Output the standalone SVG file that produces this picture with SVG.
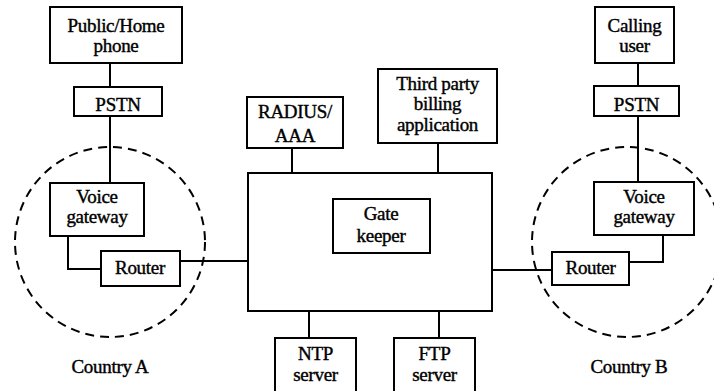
<svg xmlns="http://www.w3.org/2000/svg" width="714" height="391" viewBox="0 0 714 391">
  <style>
    .box { fill: #fff; stroke: #000; stroke-width: 2; }
    .wire { fill: none; stroke: #000; stroke-width: 2; }
    .zone { fill: none; stroke: #000; stroke-width: 2; stroke-dasharray: 9 6; }
    .lbl { font-family: 'Liberation Serif', Tinos, 'DejaVu Serif', serif; font-size: 19px; fill: #000; stroke: #000; stroke-width: 0.4; text-anchor: middle; letter-spacing: -0.3px; }
  </style>
  <rect width="714" height="391" fill="#fff"/>

  <!-- country zones -->
  <g id="zones">
    <circle class="zone" cx="110" cy="242" r="95"/>
    <circle class="zone" cx="627" cy="242" r="95"/>
  </g>

  <!-- connectors -->
  <g id="connectors">
    <line class="wire" x1="110" y1="63" x2="110" y2="87"/>
    <line class="wire" x1="110" y1="116" x2="110" y2="183"/>
    <polyline class="wire" points="68,236 68,269 101,269"/>
    <line class="wire" x1="180" y1="261" x2="248" y2="261"/>
    <line class="wire" x1="292" y1="148" x2="292" y2="173"/>
    <line class="wire" x1="438" y1="143" x2="438" y2="173"/>
    <line class="wire" x1="309" y1="311" x2="309" y2="338"/>
    <line class="wire" x1="439" y1="311" x2="439" y2="338"/>
    <line class="wire" x1="492" y1="270" x2="552" y2="270"/>
    <polyline class="wire" points="629,262 663,262 663,235"/>
    <line class="wire" x1="638" y1="63" x2="638" y2="86"/>
    <line class="wire" x1="638" y1="116" x2="638" y2="182"/>
  </g>

  <!-- left side: Country A -->
  <g id="home-phone">
    <rect class="box" x="50" y="7" width="132" height="56"/>
    <text class="lbl" x="116" y="32">Public/Home</text>
    <text class="lbl" x="116" y="52">phone</text>
  </g>
  <g id="pstn-a">
    <rect class="box" x="74" y="87" width="88" height="29"/>
    <text class="lbl" x="118" y="111">PSTN</text>
  </g>
  <g id="gateway-a">
    <rect class="box" x="50" y="183" width="94" height="53"/>
    <text class="lbl" x="97" y="203">Voice</text>
    <text class="lbl" x="97" y="223">gateway</text>
  </g>
  <g id="router-a">
    <rect class="box" x="101" y="251" width="79" height="35"/>
    <text class="lbl" x="140" y="274">Router</text>
  </g>

  <!-- core network -->
  <g id="core">
    <rect class="box" x="248" y="173" width="244" height="138"/>
  </g>
  <g id="gatekeeper">
    <rect class="box" x="333" y="199" width="97" height="54"/>
    <text class="lbl" x="381" y="220">Gate</text>
    <text class="lbl" x="381" y="242">keeper</text>
  </g>
  <g id="radius">
    <rect class="box" x="247" y="97" width="96" height="51"/>
    <text class="lbl" x="295" y="118">RADIUS/</text>
    <text class="lbl" x="295" y="142">AAA</text>
  </g>
  <g id="billing">
    <rect class="box" x="378" y="69" width="119" height="74"/>
    <text class="lbl" x="437.5" y="90">Third party</text>
    <text class="lbl" x="437.5" y="110">billing</text>
    <text class="lbl" x="437.5" y="131">application</text>
  </g>
  <g id="ntp">
    <rect class="box" x="275" y="338" width="81" height="56"/>
    <text class="lbl" x="315.5" y="360">NTP</text>
    <text class="lbl" x="315.5" y="381">server</text>
  </g>
  <g id="ftp">
    <rect class="box" x="394" y="338" width="81" height="56"/>
    <text class="lbl" x="434.5" y="360">FTP</text>
    <text class="lbl" x="434.5" y="381">server</text>
  </g>

  <!-- right side: Country B -->
  <g id="calling-user">
    <rect class="box" x="595" y="7" width="79" height="56"/>
    <text class="lbl" x="634.5" y="32">Calling</text>
    <text class="lbl" x="634.5" y="52">user</text>
  </g>
  <g id="pstn-b">
    <rect class="box" x="594" y="86" width="85" height="30"/>
    <text class="lbl" x="636.5" y="111">PSTN</text>
  </g>
  <g id="gateway-b">
    <rect class="box" x="594" y="182" width="100" height="53"/>
    <text class="lbl" x="644" y="203">Voice</text>
    <text class="lbl" x="644" y="223">gateway</text>
  </g>
  <g id="router-b">
    <rect class="box" x="552" y="252" width="77" height="33"/>
    <text class="lbl" x="590.5" y="274">Router</text>
  </g>

  <!-- zone labels -->
  <g id="labels">
    <text class="lbl" x="110" y="373">Country A</text>
    <text class="lbl" x="629" y="373">Country B</text>
  </g>
</svg>
